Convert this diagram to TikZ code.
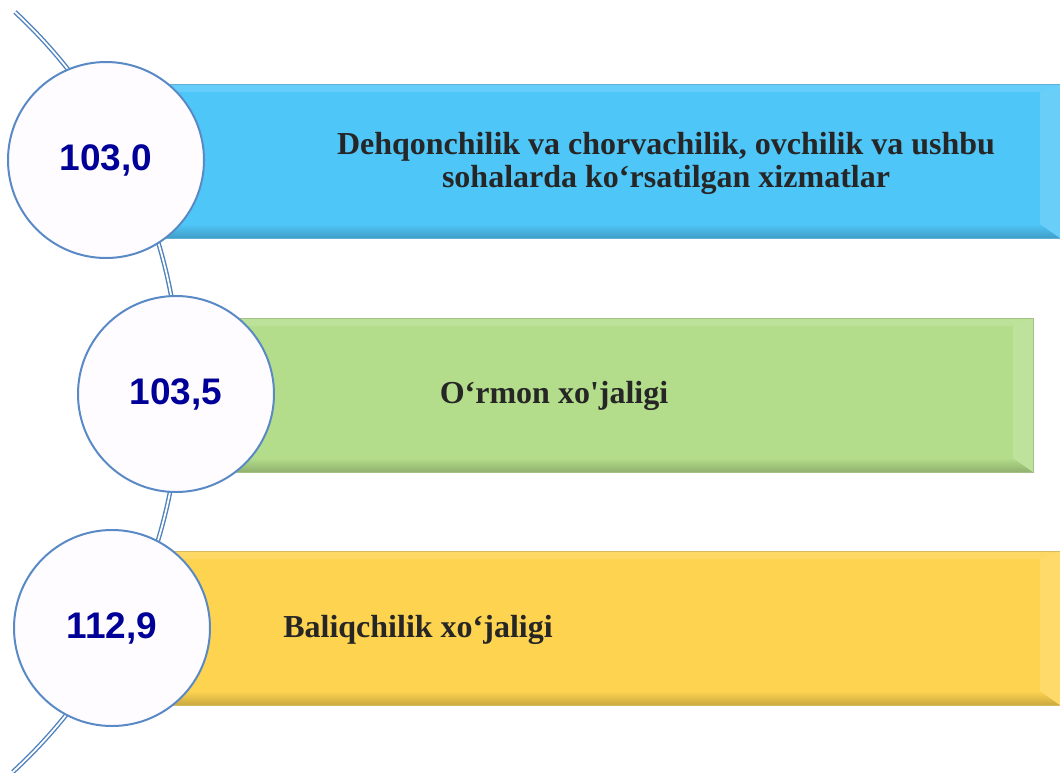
\documentclass[tikz,border=0pt]{standalone}
\usepackage{fontspec}
\usepackage{xcolor}
\newfontfamily\numfont{Liberation Sans}
\newfontfamily\barfont{Liberation Serif}
\definecolor{arcblue}{HTML}{4F81BD}
\definecolor{ringblue}{HTML}{5A8AC6}
\definecolor{circfill}{HTML}{FFFCFF}
\definecolor{numblue}{HTML}{000099}
\definecolor{txtgray}{HTML}{262626}
\definecolor{barblue}{HTML}{4FC6F8}
\definecolor{bargreen}{HTML}{B3DD8A}
\definecolor{baryellow}{HTML}{FDD350}

\begin{document}
\begin{tikzpicture}[x=1pt,y=-1pt,
  arcline/.style={draw=arcblue,double=white,double distance=1.8pt,line width=1.4pt},
  valcircle/.style={circle,draw=ringblue,line width=2pt,fill=circfill,minimum size=196pt,inner sep=0pt,font=\numfont\bfseries\fontsize{37}{37}\selectfont,text=numblue},
  bartext/.style={font=\barfont\bfseries\fontsize{32}{33}\selectfont,text=txtgray,align=center}]

\useasboundingbox (0,0) rectangle (1060,772);

\coordinate (arctop) at (15,12);
\draw[arcline] (arctop) arc[start angle=-47.06, end angle=47.4, radius=517.7];

\foreach \xa/\ya/\xb/\yb/\c in {165/84/1060/238/barblue,230/318/1033/472/bargreen,165/551/1060/705/baryellow}{
  \fill[\c] (\xa,\ya) rectangle (\xb,\yb);
  \fill[\c!88!white] (\xa,\ya) -- (\xb,\ya) -- (\xb-20,\ya+8) -- (\xa,\ya+8) -- cycle;
  \shade[top color=\c, bottom color=\c!80!black] (\xa,\yb-14) -- (\xb-20,\yb-14) -- (\xb,\yb) -- (\xa,\yb) -- cycle;
  \fill[\c!85!white] (\xb,\ya) -- (\xb,\yb) -- (\xb-20,\yb-14) -- (\xb-20,\ya+8) -- cycle;
  \draw[\c!70!gray,line width=0.8] (\xa,\ya) rectangle (\xb,\yb);
}

\node[valcircle] (v1) at (106,160) {103,0};
\node[valcircle] (v2) at (176,394) {103,5};
\node[valcircle] (v3) at (112,628) {112,9};

\node[bartext] (t1) at (666,163) {Dehqonchilik va chorvachilik, ovchilik va ushbu\\sohalarda ko‘rsatilgan xizmatlar};
\node[bartext] (t2) at (554,396) {O‘rmon xo'jaligi};
\node[bartext] (t3) at (418,630) {Baliqchilik xo‘jaligi};
\end{tikzpicture}
\end{document}
